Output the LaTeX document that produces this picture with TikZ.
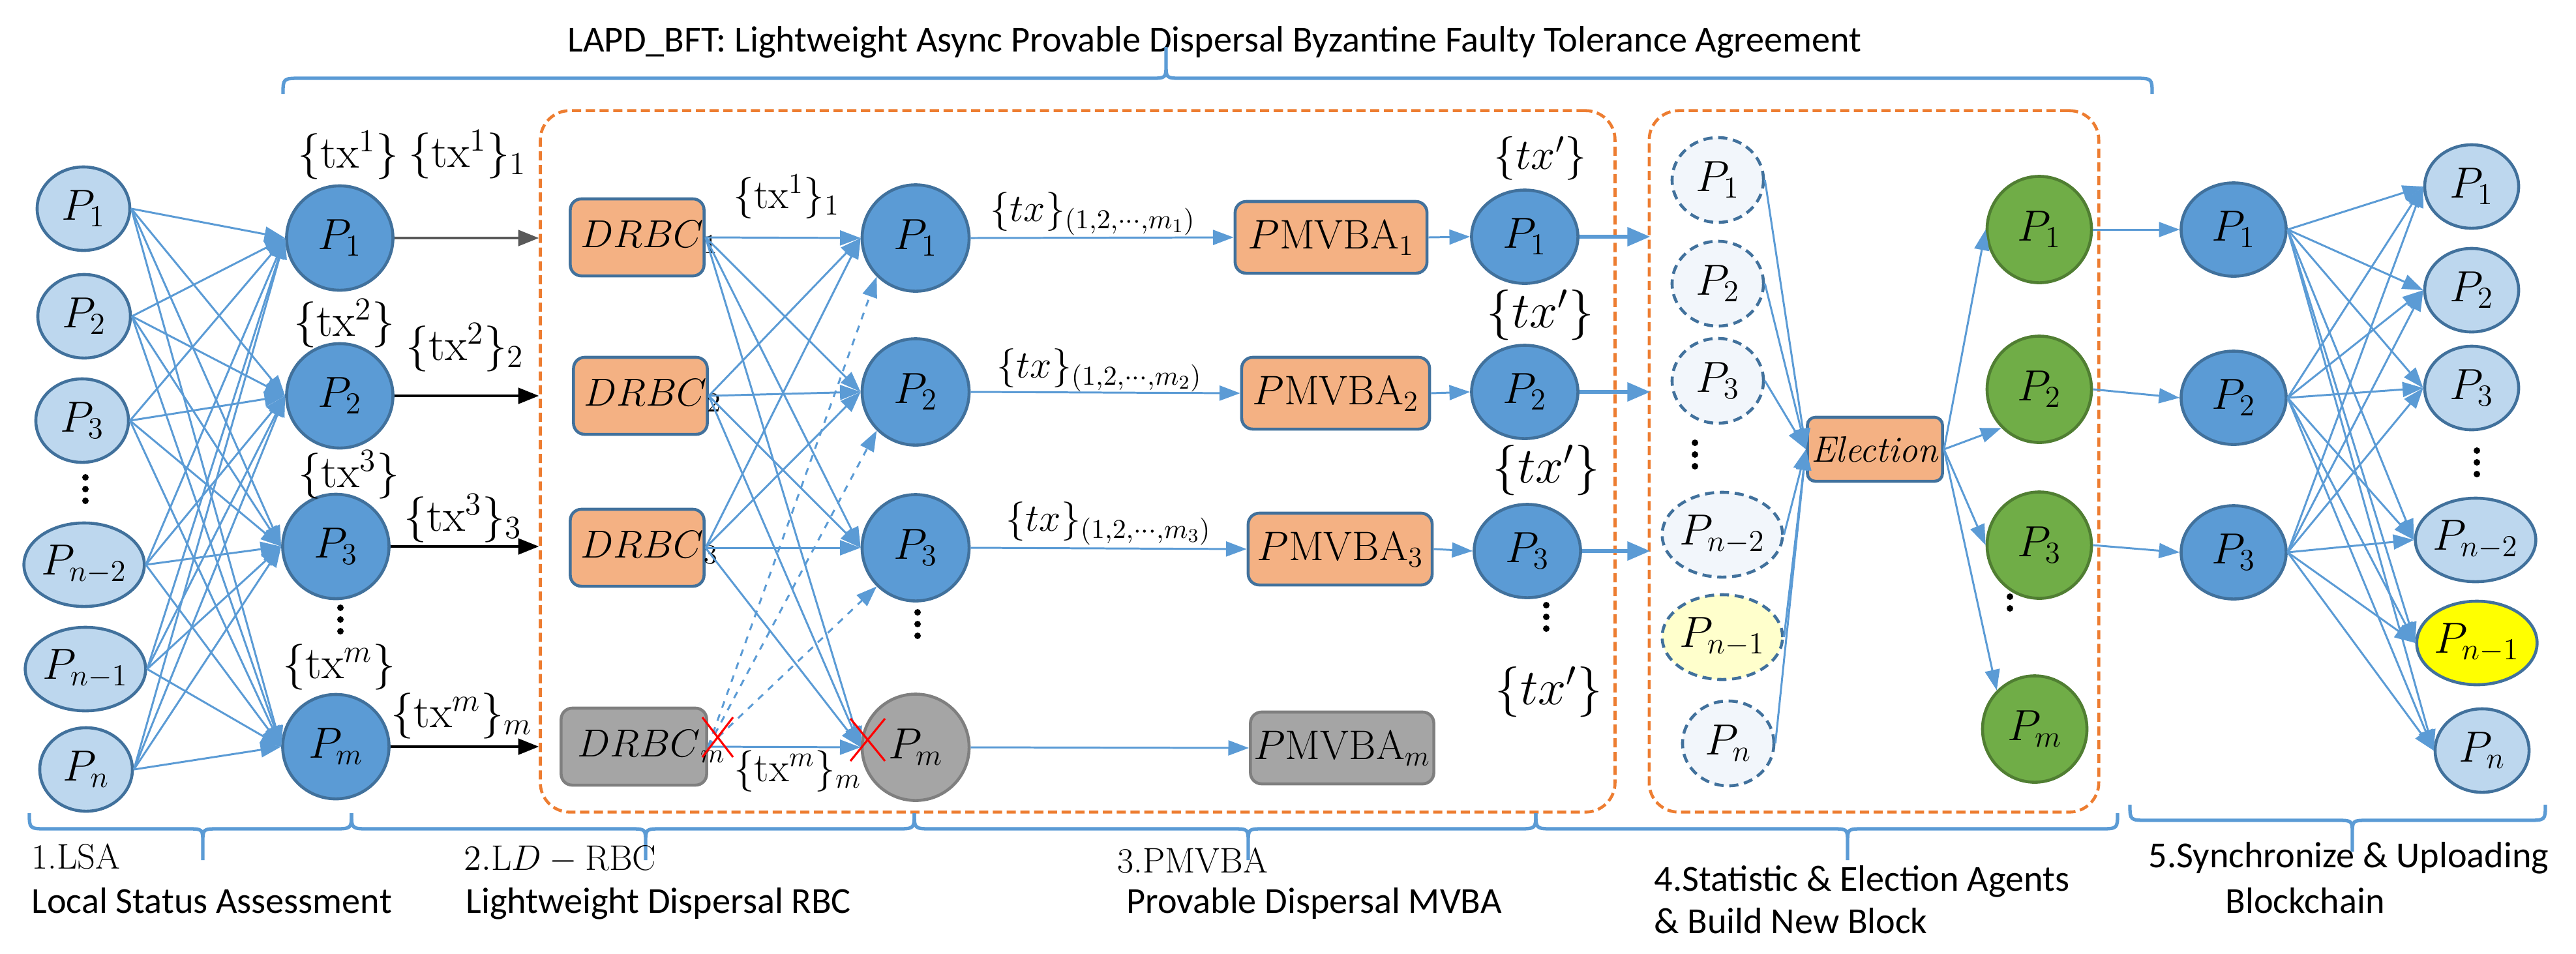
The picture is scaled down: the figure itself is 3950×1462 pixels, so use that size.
\RequirePackage{fix-cm}
\documentclass[tikz,border=0pt]{standalone}
\usepackage{fontspec}
\newfontfamily\calib{Carlito}
\usetikzlibrary{shapes.geometric,arrows.meta,calc}
\definecolor{lineblue}{HTML}{5B9BD5}
\definecolor{nborder}{HTML}{41719C}
\definecolor{lightfill}{HTML}{BDD7EE}
\definecolor{midfill}{HTML}{5B9BD5}
\definecolor{grayfill}{HTML}{A5A5A5}
\definecolor{graydraw}{HTML}{7F7F7F}
\definecolor{orangefill}{HTML}{F4B183}
\definecolor{orangedash}{HTML}{ED7D31}
\definecolor{greenfill}{HTML}{70AD47}
\definecolor{greendraw}{HTML}{507E32}
\definecolor{dashfill}{HTML}{F2F6FB}
\definecolor{paleyellow}{HTML}{FFFFCC}
\definecolor{brightyellow}{HTML}{FFFF00}
\newcommand{\FSz}[1]{\fontsize{#1}{#1}\selectfont}
% brace: #1 left x, #2 right x, #3 tip x, #4 line y, #5 sign (1 = tip down, -1 = tip up)
\newcommand{\hbrc}[5]{%
  \draw[brc] (#1,{#4-24*(#5)}) .. controls (#1,#4) .. ({#1+28},#4) -- ({#3-24},#4)
     .. controls (#3,#4) .. (#3,{#4+22*(#5)}) -- (#3,{#4+48*(#5)})
     (#3,{#4+22*(#5)}) .. controls (#3,#4) .. ({#3+24},#4) -- ({#2-28},#4)
     .. controls (#2,#4) .. (#2,{#4-24*(#5)});}
\newcommand{\vdts}[2]{\fill (#1,{#2-18}) circle (0.05cm) (#1,#2) circle (0.05cm) (#1,{#2+18}) circle (0.05cm);}
\newcommand{\drbc}[1]{\hspace*{0.15cm}$DRBC\rlap{$_{#1}$}$}
\begin{document}
\begin{tikzpicture}[x=0.01cm, y=-0.01cm,
  pn/.style={ellipse, draw=nborder, line width=1.3pt, inner sep=0pt, font=\FSz{19}},
  lightn/.style={pn, fill=lightfill, minimum width=1.42cm, minimum height=1.28cm},
  bigb/.style={pn, fill=midfill, minimum width=1.63cm, minimum height=1.60cm},
  midb/.style={pn, fill=midfill, minimum width=1.64cm, minimum height=1.63cm},
  smallb/.style={pn, fill=midfill, minimum width=1.63cm, minimum height=1.43cm},
  grayn/.style={pn, fill=grayfill, draw=graydraw, minimum width=1.64cm, minimum height=1.63cm},
  dashn/.style={pn, dash pattern=on 4pt off 2.5pt, fill=dashfill, minimum width=1.40cm, minimum height=1.30cm},
  greenn/.style={pn, fill=greenfill, draw=greendraw, minimum width=1.60cm, minimum height=1.63cm},
  obox/.style={rectangle, rounded corners=0.17cm, draw=nborder, fill=orangefill, line width=1.3pt, inner sep=0pt, minimum height=1.18cm, minimum width=2.05cm, font=\FSz{17}},
  gbox/.style={obox, fill=grayfill, draw=graydraw},
  pbox/.style={obox, minimum height=1.10cm, font=\FSz{18}},
  region/.style={rectangle, draw=orangedash, line width=1.3pt, dash pattern=on 4pt off 2pt, rounded corners=0.45cm, inner sep=0pt},
  conn/.style={draw=lineblue, line width=0.85pt, -{Triangle[length=9pt,width=6.5pt]}},
  thickconn/.style={draw=lineblue, line width=1.8pt, -{Triangle[length=10pt,width=8pt]}},
  blk/.style={draw=black, line width=0.9pt, -{Triangle[length=9pt,width=7pt]}},
  brc/.style={draw=lineblue, line width=1.5pt},
  lbl/.style={inner sep=0pt},
  serifl/.style={lbl, anchor=base west, font=\FSz{15.5}},
  sansl/.style={lbl, anchor=base west, font=\calib\FSz{16}}
]
\useasboundingbox (0,0) rectangle (3950,1462);

% regions
\node[region, minimum width=16.47cm, minimum height=10.75cm] (box1) at (1652.5,707.5) {};
\node[region, minimum width=6.89cm, minimum height=10.75cm] (box2) at (2873.5,707.5) {};

% title and braces
\node[sansl] (title) at (870,79) {LAPD\_BFT: Lightweight Async Provable Dispersal Byzantine Faulty Tolerance Agreement};
\hbrc{434}{3300}{1788}{120}{-1}
\hbrc{45}{539}{311}{1271}{1}
\hbrc{539}{1402}{990}{1271}{1}
\hbrc{1402}{2355}{1914}{1271}{1}
\hbrc{2355}{3247}{2833}{1271}{1}
\hbrc{3266}{3903}{3607}{1258}{1}

% bottom labels
\node[serifl] (b1a) at (48,1332) {1.LSA};
\node[sansl] (b1b) at (48,1400) {Local Status Assessment};
\node[serifl] (b2a) at (711,1334) {$2.\mathrm{L}D-\mathrm{RBC}$};
\node[sansl] (b2b) at (714,1400) {Lightweight Dispersal RBC};
\node[serifl] (b3a) at (1713,1338) {3.PMVBA};
\node[sansl] (b3b) at (1727,1400) {Provable Dispersal MVBA};
\node[sansl] (b4a) at (2536,1366) {4.Statistic \& Election Agents};
\node[sansl] (b4b) at (2536,1431) {\& Build New Block};
\node[sansl] (b5a) at (3294,1330) {5.Synchronize \& Uploading};
\node[sansl] (b5b) at (3412,1400) {Blockchain};

% stage 1: left nodes
\node[lightn] (L1) at (128,320) {$P_1$};
\node[lightn] (L2) at (129,485) {$P_2$};
\node[lightn] (L3) at (126,645) {$P_3$};
\node[lightn] (L4) at (129,866) {$P_{n-2}$};
\node[lightn] (L5) at (131,1026) {$P_{n-1}$};
\node[lightn] (L6) at (132,1180) {$P_n$};
\vdts{131}{750}

% stage 1: blue nodes
\node[bigb] (A1) at (521,365) {$P_1$};
\node[bigb] (A2) at (521,607) {$P_2$};
\node[bigb] (A3) at (515,838) {$P_3$};
\node[bigb] (A4) at (515,1145) {$P_m$};
\vdts{522}{950}

\node[lbl, font=\FSz{20}] (t1) at (534,238) {$\{\mathrm{tx}^1\}$};
\node[lbl, font=\FSz{20}] (t1s) at (717,237) {$\{\mathrm{tx}^1\}_1$};
\node[lbl, font=\FSz{20}] (t2) at (528,496) {$\{\mathrm{tx}^2\}$};
\node[lbl, font=\FSz{20}] (t2s) at (713,533) {$\{\mathrm{tx}^2\}_2$};
\node[lbl, font=\FSz{20}] (t3) at (535,728) {$\{\mathrm{tx}^3\}$};
\node[lbl, font=\FSz{20}] (t3s) at (710,795) {$\{\mathrm{tx}^3\}_3$};
\node[lbl, font=\FSz{20}] (t4) at (520,1023) {$\{\mathrm{tx}^m\}$};
\node[lbl, font=\FSz{20}] (t4s) at (708,1098) {$\{\mathrm{tx}^m\}_m$};

% stage 2
\node[obox] (D1) at (977,364) {\drbc{1}};
\node[obox] (D2) at (982,607) {\drbc{2}};
\node[obox] (D3) at (977,840) {\drbc{3}};
\node[gbox, minimum width=2.23cm] (D4) at (972,1145) {\drbc{m}};

\node[midb] (M1) at (1404,365) {$P_1$};
\node[midb] (M2) at (1404,601) {$P_2$};
\node[midb] (M3) at (1404,840) {$P_3$};
\node[grayn] (M4) at (1404,1146) {$P_m$};
\vdts{1407}{957}

\node[lbl, font=\FSz{18}] (u1) at (1206,302) {$\{\mathrm{tx}^1\}_1$};
\node[lbl, font=\FSz{18}] (u4) at (1223,1183) {$\{\mathrm{tx}^m\}_m$};

% stage 3
\node[lbl, font=\FSz{17}] (v1) at (1676,328) {$\{tx\}_{(1,2,\cdots,m_1)}$};
\node[lbl, font=\FSz{17}] (v2) at (1686,568) {$\{tx\}_{(1,2,\cdots,m_2)}$};
\node[lbl, font=\FSz{17}] (v3) at (1700,803) {$\{tx\}_{(1,2,\cdots,m_3)}$};

\node[pbox, minimum width=2.94cm] (Q1) at (2041,364) {$P\mathrm{MVBA}_1$};
\node[pbox, minimum width=2.88cm] (Q2) at (2048,603) {$P\mathrm{MVBA}_2$};
\node[pbox, minimum width=2.82cm] (Q3) at (2055,842) {$P\mathrm{MVBA}_3$};
\node[pbox, fill=grayfill, draw=graydraw, minimum width=2.81cm] (Q4) at (2058,1147) {$P\mathrm{MVBA}_m$};

\node[smallb] (R1) at (2338,363) {$P_1$};
\node[smallb] (R2) at (2338,601) {$P_2$};
\node[smallb] (R3) at (2342,845) {$P_3$};
\vdts{2371}{946}

\node[lbl, font=\FSz{19}] (w1) at (2362,243) {$\{tx'\}$};
\node[lbl, font=\FSz{22}] (w2) at (2362,483) {$\{tx'\}$};
\node[lbl, font=\FSz{22}] (w3) at (2371,721) {$\{tx'\}$};
\node[lbl, font=\FSz{22}] (w4) at (2375,1061) {$\{tx'\}$};

% stage 4
\node[dashn] (S1) at (2634,276) {$P_1$};
\node[dashn] (S2) at (2634,435) {$P_2$};
\node[dashn] (S3) at (2634,584) {$P_3$};
\node[dashn] (S4) at (2641,820) {$P_{n-2}$};
\node[dashn, fill=paleyellow] (S5) at (2641,977) {$P_{n-1}$};
\node[dashn] (S6) at (2650,1140) {$P_n$};
\vdts{2599}{697}

\node[obox, minimum width=2.07cm, minimum height=0.98cm, rounded corners=0.12cm, font=\FSz{16}] (E) at (2875,689) {\textit{Election}};

\vdts{3082}{915}
\node[greenn] (G1) at (3127,352) {$P_1$};
\node[greenn] (G2) at (3127,597) {$P_2$};
\node[greenn] (G3) at (3127,836) {$P_3$};
\node[greenn] (G4) at (3120,1118) {$P_m$};

% stage 5
\node[smallb, minimum width=1.61cm] (B1) at (3425,352) {$P_1$};
\node[smallb, minimum width=1.61cm] (B2) at (3425,610) {$P_2$};
\node[smallb, minimum width=1.61cm] (B3) at (3425,847) {$P_3$};

\node[lightn, minimum width=1.44cm] (T1) at (3790,286) {$P_1$};
\node[lightn, minimum width=1.44cm] (T2) at (3790,445) {$P_2$};
\node[lightn, minimum width=1.44cm] (T3) at (3790,595) {$P_3$};
\node[lightn, minimum width=1.44cm] (T4) at (3796,828) {$P_{n-2}$};
\node[lightn, minimum width=1.44cm, fill=brightyellow] (T5) at (3798,986) {$P_{n-1}$};
\node[lightn, minimum width=1.44cm] (T6) at (3806,1151) {$P_n$};
\vdts{3798}{709}

% ---- connectors ----
\foreach \a in {L1,L2,L3,L4,L5,L6}
  \foreach \b in {A1,A2,A3,A4}
    \draw[conn] (\a.east) -- (\b.west);

\draw[blk, draw=black!65] (A1.east) -- (A1.east -| box1.west);
\foreach \b in {A2,A3,A4}
  \draw[blk] (\b.east) -- (\b.east -| box1.west);

\foreach \d in {D1,D2,D3}
  \foreach \m in {M1,M2,M3,M4}
    \draw[conn] (\d.east) -- (\m.west);
\foreach \m in {M1,M2,M3}
  \draw[conn, dashed] (D4.east) -- (\m.south west);
\draw[conn] (D4.east) -- (M4.west);
\draw[red, line width=0.9pt] (1077,1100) -- (1124,1161) (1124,1100) -- (1077,1161);
\draw[red, line width=0.9pt] (1304,1102) -- (1357,1167) (1357,1102) -- (1304,1167);

\draw[conn] (M1.east) -- (Q1.west);
\draw[conn] (M2.east) -- (Q2.west);
\draw[conn] (M3.east) -- (Q3.west);
\draw[conn] (M4.east) -- (Q4.west);
\draw[conn] (Q1.east) -- (R1.west);
\draw[conn] (Q2.east) -- (R2.west);
\draw[conn] (Q3.east) -- (R3.west);
\foreach \r in {R1,R2,R3}
  \draw[thickconn] (\r.east) -- ($(\r.east -| box2.west)+(4,0)$);

\foreach \s in {S1,S2,S3,S4,S5,S6}
  \draw[conn] (\s.east) -- (E.west);
\draw[conn] (E.east) -- (G1.west);
\draw[conn] (E.east) -- (G2.south west);
\draw[conn] (E.east) -- (G3.west);
\draw[conn] (E.east) -- (G4.north west);

\draw[conn] (G1.east) -- (B1.west);
\draw[conn] (G2.east) -- (B2.west);
\draw[conn] (G3.east) -- (B3.west);
\foreach \b in {B1,B2,B3}
  \foreach \t in {T1,T2,T3,T4,T5,T6}
    \draw[conn] (\b.east) -- (\t.west);
\end{tikzpicture}
\end{document}
